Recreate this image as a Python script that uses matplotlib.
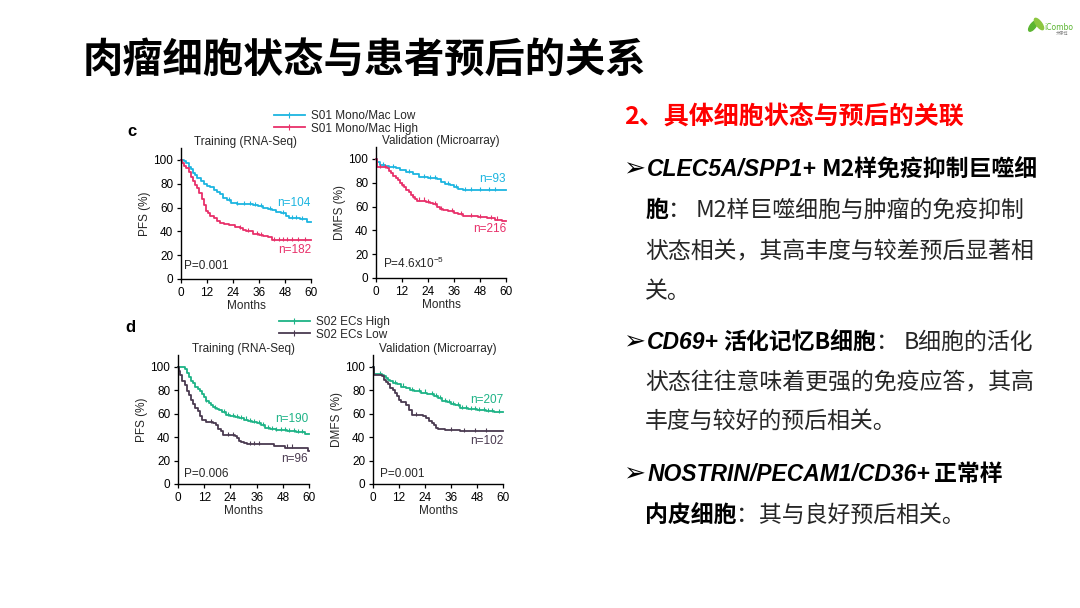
import matplotlib.pyplot as plt
import numpy as np
from matplotlib.lines import Line2D
from matplotlib.patches import Ellipse

plt.rcParams['font.family'] = ['Liberation Sans', 'DejaVu Sans']
plt.rcParams['mathtext.default'] = 'regular'

W, H = 1080, 608

# ---- data (months, survival %) ----
# c: S01 Mono/Mac, training (RNA-Seq)
c_tr_low_t = [0, 1.5, 2.5, 3.5, 4.5, 5.5, 6.5, 7.5, 9, 10.5, 12, 13.5, 15, 16.5, 18, 19.5, 21, 23, 26, 33, 35.5, 38, 40, 42, 44, 46, 48.5, 50, 55, 58]
c_tr_low_s = [100, 99, 97, 94, 92, 89, 87, 85, 82, 80, 78, 77, 75, 73, 71, 68, 66, 64, 63, 62, 61, 60, 59, 58, 56, 55, 53, 51, 50, 48]
c_tr_low_cens = [22, 26, 29, 32, 34, 37, 41, 47, 51, 53, 56]
c_tr_high_t = [0, 0.5, 1.5, 2.5, 3.5, 4.5, 5.5, 6.5, 7.5, 8.5, 9.5, 10.5, 11.5, 12.5, 13.5, 15, 16.5, 18, 20, 22, 25, 27, 28.5, 30, 33, 36, 38, 40, 42]
c_tr_high_s = [100, 97, 95, 93, 90, 86, 82, 79, 76, 72, 67, 62, 57, 55, 53, 51, 49, 47, 46, 45, 44, 43, 41, 40, 38, 37, 36, 35, 33]
c_tr_high_cens = [27, 31, 35, 37, 43, 45, 47, 49, 51, 54, 57]

# c: validation (microarray)
c_va_low_t = [0, 0.5, 2, 4, 6, 9, 11, 14, 17, 20, 24, 28, 30, 32, 34, 36, 38, 40]
c_va_low_s = [100, 97, 95, 94, 93, 92, 91, 89, 87, 85, 84, 83, 81, 79, 78, 76, 75, 74]
c_va_low_cens = [3, 8, 15, 22, 25, 27, 33, 37, 41, 44, 48, 52, 55]
c_va_high_t = [0, 0.5, 5, 6, 7, 8, 9, 10, 11, 12, 13, 14, 15, 16, 17, 18, 19, 23, 25, 26.5, 28, 29.5, 31, 33, 36, 38, 40, 43, 47, 51, 55, 58]
c_va_high_s = [100, 93, 92, 90, 88, 86, 84, 82, 80, 78, 76, 74, 72, 70, 68, 66, 65, 64, 63, 62, 60, 58, 57, 56, 55, 54, 52, 52, 51, 50, 49, 48]
c_va_high_cens = [2, 4, 12, 17, 20, 22, 24, 27, 30, 35, 39, 44, 48, 53, 56]

# d: S02 ECs, training (RNA-Seq)
d_tr_high_t = [0, 3, 4, 5, 6, 7, 8, 9, 10, 11, 12, 13, 14, 15, 16, 17, 18, 19, 20, 22, 24, 26, 28, 30, 32, 34, 36, 38, 40, 42, 45, 50, 54, 58]
d_tr_high_s = [100, 98, 95, 91, 88, 86, 83, 81, 79, 77, 74, 71, 69, 67, 66, 65, 64, 63, 61, 59, 58, 57, 56, 55, 54, 53, 52, 50, 48, 47, 46, 45, 44, 43]
d_tr_high_cens = [13, 17, 21, 23, 25, 27, 29, 31, 33, 35, 37, 39, 41, 43, 45, 47, 49, 51, 53, 55, 57]
d_tr_low_t = [0, 0.5, 1, 2, 3, 4, 5, 6, 7, 8, 9, 10, 11, 13, 16, 17.5, 18.5, 19.5, 20.5, 26, 27, 28, 29, 30, 31.5, 44, 49, 59.5]
d_tr_low_s = [100, 96, 93, 88, 84, 79, 76, 72, 68, 65, 62, 58, 55, 53, 52, 50, 47, 45, 42, 41, 39, 37, 36, 35, 34, 32, 31, 28]
d_tr_low_cens = [15, 23, 25, 33, 35, 37, 50, 52]

# d: validation (microarray)
d_va_high_t = [0, 0.3, 4, 5, 6, 7, 8, 9, 11, 13, 15, 17, 19, 22, 25, 28, 30, 32, 34, 36, 38, 40, 44, 48, 52, 56]
d_va_high_s = [100, 94, 93, 92, 90, 89, 88, 86, 85, 83, 82, 80, 79, 78, 77, 75, 73, 71, 70, 68, 67, 65, 64, 63, 62, 61]
d_va_high_cens = [3, 10, 14, 18, 21, 24, 27, 29, 31, 33, 35, 37, 39, 41, 43, 45, 47, 49, 51, 53, 55, 58]
d_va_low_t = [0, 0.3, 4, 5, 6, 7, 8, 9, 10, 11, 12, 13, 15, 16.5, 18, 23, 24.5, 26, 27, 28, 29, 30, 33, 40]
d_va_low_s = [100, 93, 92, 89, 87, 85, 82, 80, 78, 75, 72, 70, 67, 63, 59, 58, 56, 54, 52, 50, 48, 47, 46, 45]
d_va_low_cens = [20, 36, 42, 47, 52]

CYAN = '#1CB5E0'
PINK = '#E8306A'
GREEN = '#1DB386'
PURPLE = '#4A3A50'
TXT = '#262626'

fig = plt.figure(figsize=(10.8, 6.08), dpi=100)


def box(x0, x1, y0, y1):
    # pixel box (left, right, y of value 0, y of axis top) -> figure fraction
    return [x0 / W, 1 - y0 / H, (x1 - x0) / W, (y0 - y1) / H]


def km(ax, curves, title, ylabel, pval, ntext):
    for t, s, cens, col in curves:
        t = np.append(t, 60)
        s = np.append(s, s[-1])
        ax.step(t, s, where='post', color=col, lw=1.3, clip_on=False)
        cens = np.array(cens)
        cs = s[np.searchsorted(t, cens, side='right') - 1]
        ax.plot(cens, cs + 1, ls='none', marker='|', ms=3.5, mew=0.8, color=col)
    ax.set_xlim(0, 60)
    ax.set_ylim(0, 110)
    ax.set_xticks(range(0, 61, 12))
    ax.set_yticks(range(0, 101, 20))
    for sp in ['top', 'right']:
        ax.spines[sp].set_visible(False)
    for sp in ['left', 'bottom']:
        ax.spines[sp].set_linewidth(1.0)
    ax.tick_params(length=3, width=0.9, pad=2.5, labelsize=8.5, colors='black')
    ax.set_title(title, fontsize=8.5, pad=-3, color=TXT)
    ax.set_xlabel('Months', fontsize=8.5, labelpad=1, color=TXT)
    ax.set_ylabel(ylabel, fontsize=8.5, labelpad=2, color=TXT)
    ax.text(pval[0], pval[1], pval[2], fontsize=8.5, va='center', color=TXT)
    for x, y, s, col in ntext:
        ax.text(x, y, s, fontsize=8.5, ha='right', va='center', color=col)


ax1 = fig.add_axes(box(181, 311, 279, 148))
km(ax1, [(c_tr_low_t, c_tr_low_s, c_tr_low_cens, CYAN),
         (c_tr_high_t, c_tr_high_s, c_tr_high_cens, PINK)],
   'Training (RNA-Seq)', 'PFS (%)', (1.5, 10.5, 'P=0.001'),
   [(60, 64, 'n=104', CYAN), (60, 24.5, 'n=182', PINK)])

ax2 = fig.add_axes(box(376, 506, 278, 147))
km(ax2, [(c_va_low_t, c_va_low_s, c_va_low_cens, CYAN),
         (c_va_high_t, c_va_high_s, c_va_high_cens, PINK)],
   'Validation (Microarray)', 'DMFS (%)', (3.3, 12.5, 'P=4.6x10$^{-5}$'),
   [(60, 83, 'n=93', CYAN), (60, 41, 'n=216', PINK)])

ax3 = fig.add_axes(box(178, 309, 484, 355))
km(ax3, [(d_tr_high_t, d_tr_high_s, d_tr_high_cens, GREEN),
         (d_tr_low_t, d_tr_low_s, d_tr_low_cens, PURPLE)],
   'Training (RNA-Seq)', 'PFS (%)', (2.6, 8.5, 'P=0.006'),
   [(59.5, 55, 'n=190', GREEN), (59.5, 21.5, 'n=96', PURPLE)])

ax4 = fig.add_axes(box(373, 503, 484, 355))
km(ax4, [(d_va_high_t, d_va_high_s, d_va_high_cens, GREEN),
         (d_va_low_t, d_va_low_s, d_va_low_cens, PURPLE)],
   'Validation (Microarray)', 'DMFS (%)', (3.1, 8.5, 'P=0.001'),
   [(60, 72, 'n=207', GREEN), (60, 37, 'n=102', PURPLE)])

# legends
def legend(labels, cols, x, y):
    hs = [Line2D([], [], color=c, lw=1.3, marker='|', ms=4, mew=0.8) for c in cols]
    fig.legend(hs, labels, loc='upper left', bbox_to_anchor=(x / W, 1 - y / H),
               frameon=False, fontsize=8.5, handlelength=2.6, handletextpad=0.5,
               labelspacing=0.05, borderpad=0, borderaxespad=0, labelcolor=TXT)


legend(['S01 Mono/Mac Low', 'S01 Mono/Mac High'], [CYAN, PINK], 274, 110)
legend(['S02 ECs High', 'S02 ECs Low'], [GREEN, PURPLE], 279, 316)

fig.text(127 / W, 1 - 131 / H, 'c', fontsize=12, weight='bold', va='center')
fig.text(125 / W, 1 - 328 / H, 'd', fontsize=12, weight='bold', va='center')

# ---- slide texts ----
CJK = ['Noto Sans CJK SC', 'DejaVu Sans']
fig.text(83 / W, 1 - 60 / H, '肉瘤细胞状态与患者预后的关系', family=CJK,
         fontsize=29, weight='bold', va='center', color='black')
fig.text(624 / W, 1 - 124 / H, '2、具体细胞状态与预后的关联', family=CJK,
         fontsize=18, weight='bold', va='baseline', color='#FF0000')

FS = 16.5
B = dict(family=CJK, weight='bold', fontsize=FS, color='black')
N = dict(family=CJK, fontsize=FS, color=TXT)
BI = dict(family=['Liberation Sans'], weight='bold', style='italic', fontsize=FS, color='black')
ARW = dict(family=['DejaVu Sans'], fontsize=19, weight='bold', color='black')

renderer = fig.canvas.get_renderer()


def rich(x, yc, parts):
    for s, st, gap in parts:
        t = fig.text(x / W, 1 - (yc + 8) / H, s, va='baseline', **st)
        x = t.get_window_extent(renderer=renderer).x1 + gap


rich(623, 168, [('➢', ARW, 2), ('CLEC5A/SPP1+', BI, 5), ('M2样免疫抑制巨噬细', B, 0)])
rich(645, 209, [('胞', B, 0), ('：', N, 5), ('M2样巨噬细胞与肿瘤的免疫抑制', N, 0)])
rich(645, 250, [('状态相关，其高丰度与较差预后显著相', N, 0)])
rich(645, 290, [('关。', N, 0)])
rich(623, 341, [('➢', ARW, 2), ('CD69+', BI, 4), ('活化记忆B细胞', B, 0), ('：', N, 5), ('B细胞的活化', N, 0)])
rich(645, 381, [('状态往往意味着更强的免疫应答，其高', N, 0)])
rich(645, 420, [('丰度与较好的预后相关。', N, 0)])
rich(623, 473, [('➢', ARW, 2), ('NOSTRIN/PECAM1/CD36+', BI, 4), ('正常样', B, 0)])
rich(645, 514, [('内皮细胞', B, 0), ('：其与良好预后相关。', N, 0)])

# logo
fig.patches.append(Ellipse((1033 / W, 1 - 26 / H), 6 / W, 11 / H, angle=-20,
                           transform=fig.transFigure, color='#5BB531'))
fig.patches.append(Ellipse((1039 / W, 1 - 24 / H), 6 / W, 12 / H, angle=20,
                           transform=fig.transFigure, color='#8CC63F'))
fig.text(1044 / W, 1 - 27 / H, 'iCombo', family=['DejaVu Sans'], fontsize=5.5,
         color='#5BB531', va='center')
fig.text(1056 / W, 1 - 34 / H, '艾康博', family=CJK, fontsize=3,
         color='#888888', va='center')

fig.savefig('out.png', dpi=100)
